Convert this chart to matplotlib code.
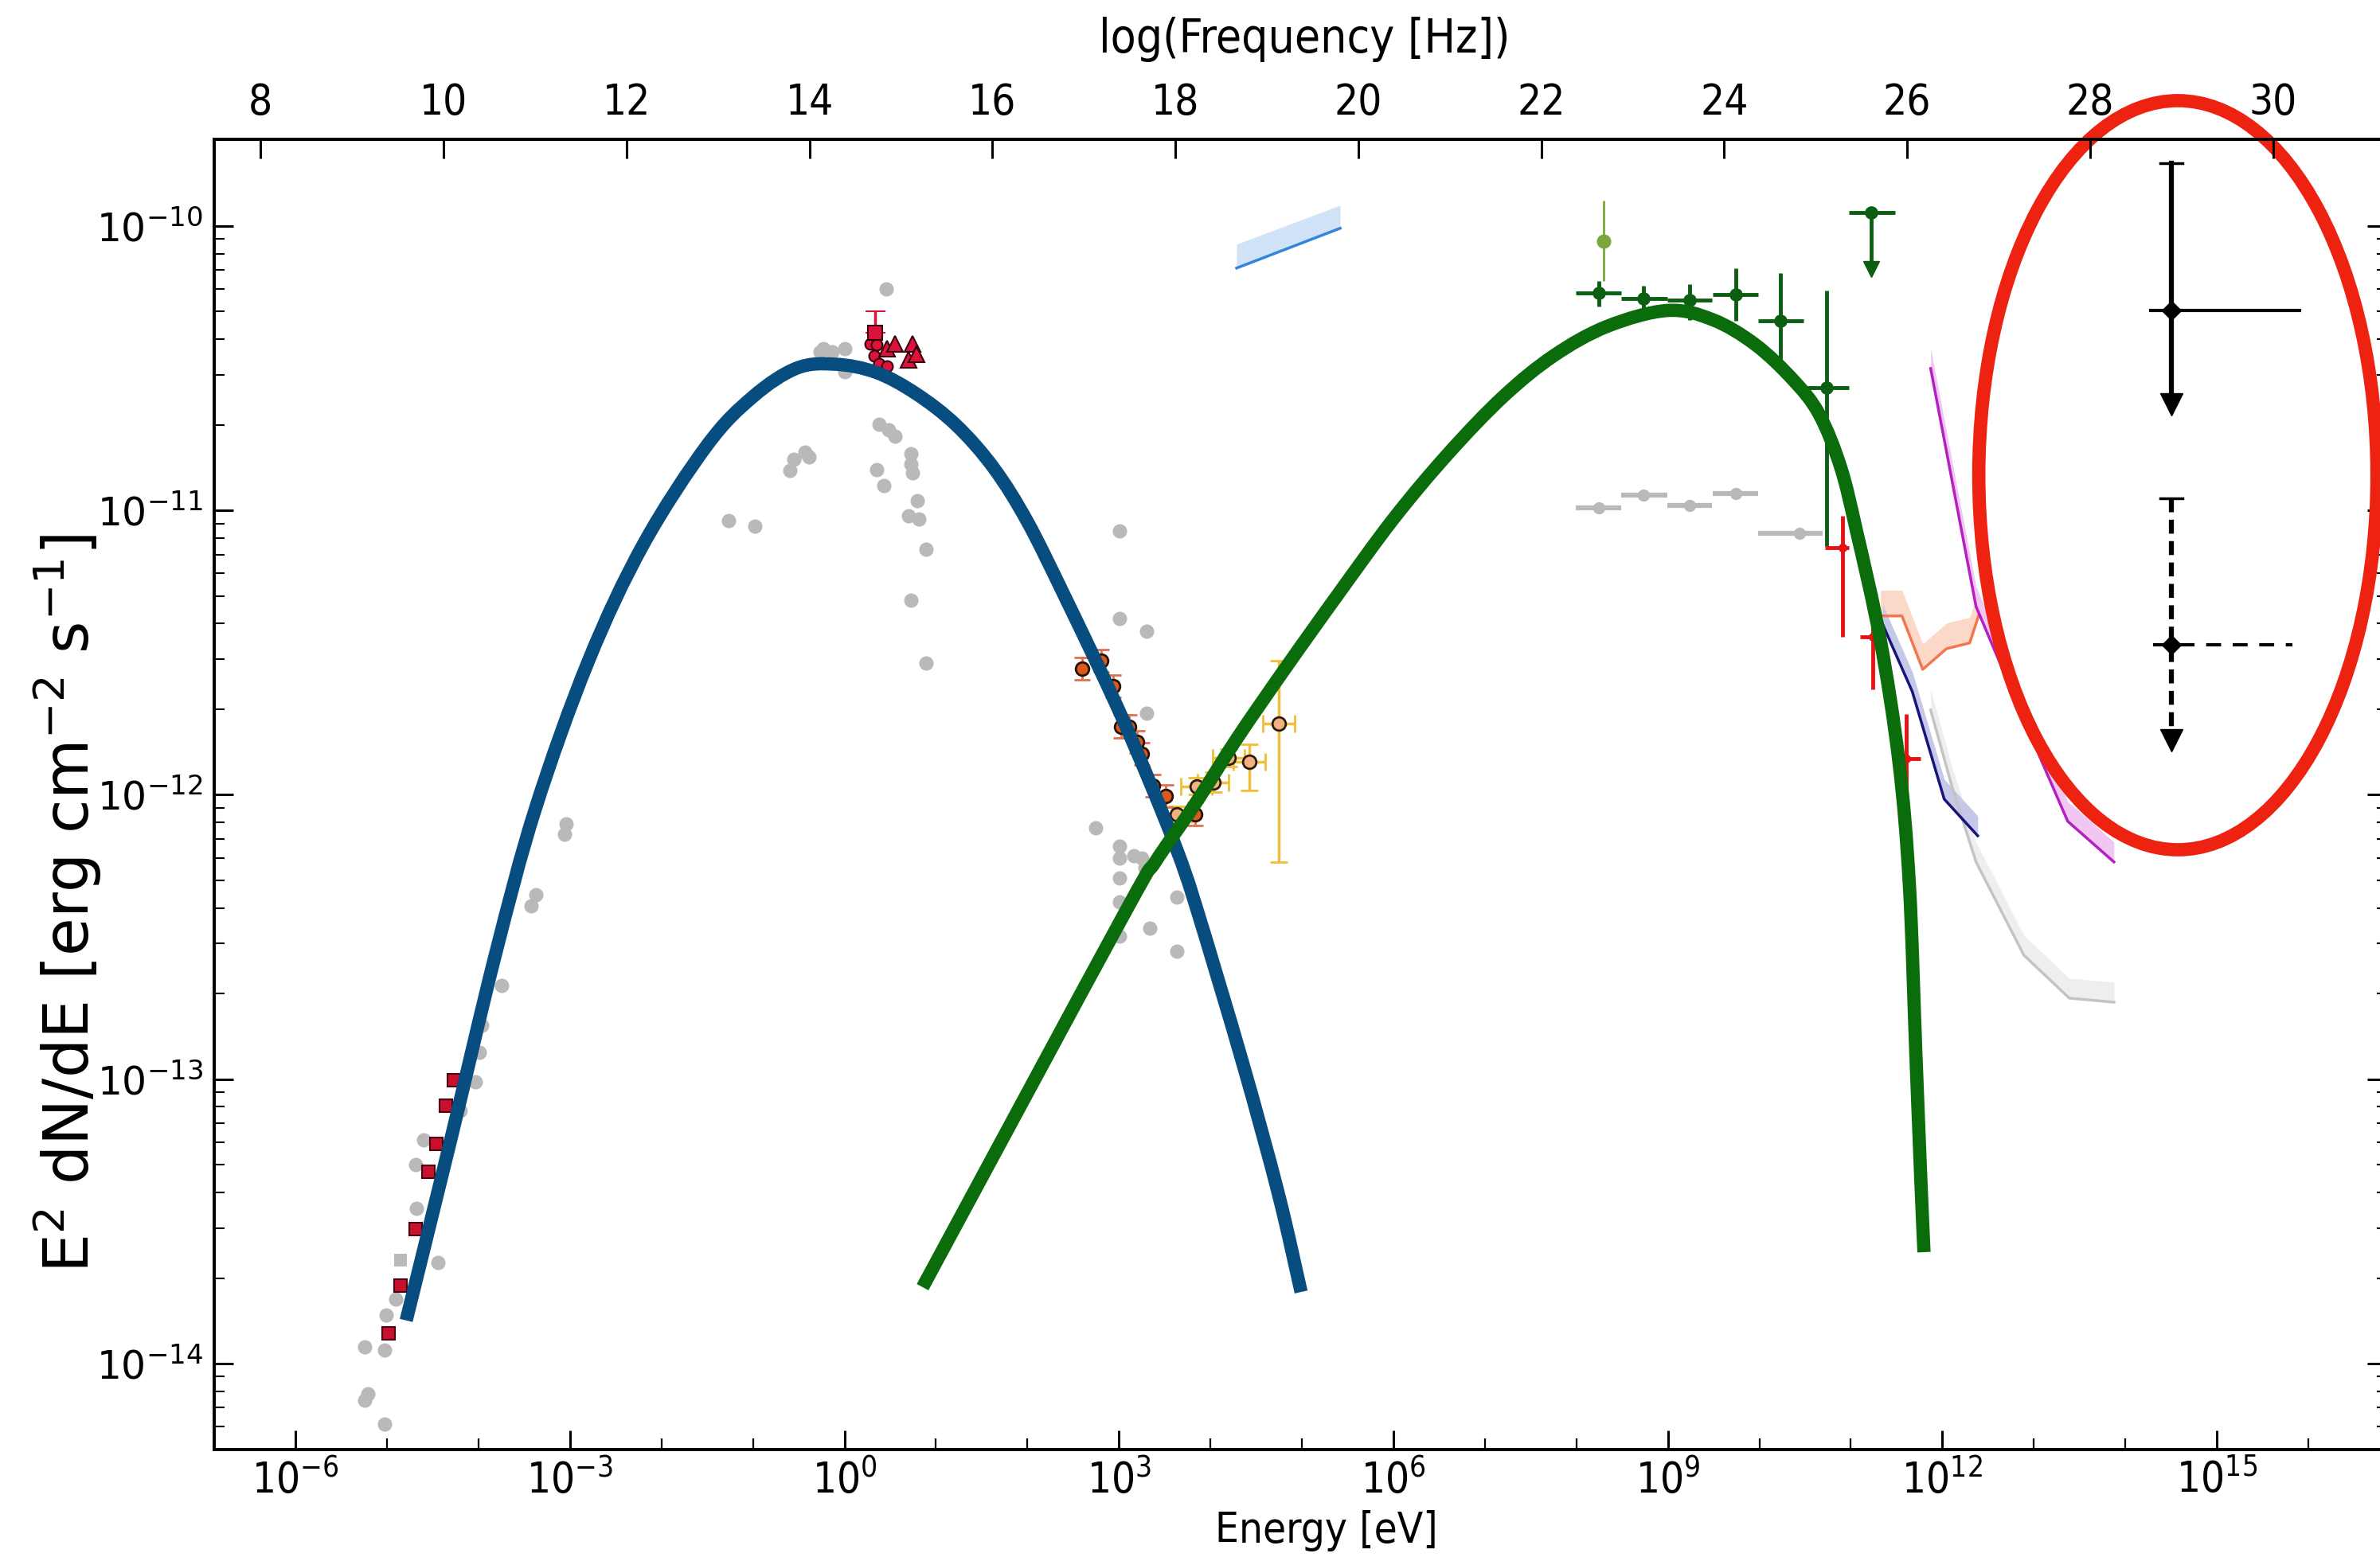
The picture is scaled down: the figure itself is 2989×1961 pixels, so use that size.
import numpy as np
import matplotlib
matplotlib.use('Agg')
import matplotlib.pyplot as plt
from matplotlib import font_manager
from matplotlib.patches import Ellipse, PathPatch
from matplotlib.path import Path

# ---------------- data (log10 values) ----------------
# archival multi-wavelength points (gray)
gray_logE = [-5.244, -5.244, -5.209, -5.026, -5.026, -5.009, -4.904, -4.443, -4.678, -4.686,
             -4.599, -4.199, -4.033, -3.990, -3.963, -3.746, -3.423, -3.371, -3.057, -3.040,
             -1.263, -0.981, -0.600, -0.550, -0.434, -0.384, -0.235, 0.000, 0.000, -0.267,
             -0.135, 0.453, 0.375, 0.479, 0.549, 0.723, 0.723, 0.348, 0.430, 0.746,
             0.795, 0.696, 0.812, 0.895, 0.729, 0.895,
             3.005, 3.005, 3.301, 3.301, 2.744, 3.005, 3.005, 3.162, 3.249, 3.284,
             3.005, 3.005, 3.632, 3.005, 3.336, 3.632]
gray_logF = [-14.128, -13.941, -14.106, -14.212, -13.952, -13.829, -13.773, -13.644, -13.454, -13.300,
             -13.213, -13.109, -13.009, -12.905, -12.810, -12.670, -12.390, -12.351, -12.138, -12.102,
             -11.035, -11.056, -10.859, -10.821, -10.795, -10.811, -10.431, -10.431, -10.512, -10.443,
             -10.443, -10.221, -10.697, -10.716, -10.739, -10.800, -10.837, -10.856, -10.912, -10.869,
             -10.965, -11.019, -11.029, -11.136, -11.317, -11.536,
             -11.072, -11.380, -11.425, -11.713, -12.116, -12.180, -12.222, -12.214, -12.222, -12.256,
             -12.292, -12.376, -12.359, -12.496, -12.468, -12.550]
gray_sq_logE = [-4.852]
gray_sq_logF = [-13.636]

# radio squares (red)
radio_logE = [-4.268, -4.355, -4.460, -4.547, -4.686, -4.852, -4.983]
radio_logF = [-13.003, -13.093, -13.227, -13.325, -13.526, -13.725, -13.893]

# optical points (red)
opt_sq_logE = [0.331]
opt_sq_logF = [-10.375]
opt_sq_top = [-10.299]
opt_ci_logE = [0.279, 0.348, 0.322, 0.375, 0.462]
opt_ci_logF = [-10.414, -10.417, -10.456, -10.484, -10.493]
opt_tri_logE = [0.462, 0.549, 0.740, 0.697, 0.784]
opt_tri_logF = [-10.431, -10.414, -10.414, -10.470, -10.451]

# X-ray points
xd_logE = [2.596, 2.805, 2.936, 3.023, 3.110, 3.197, 3.249, 3.371, 3.510, 3.833]
xd_logF = [-11.556, -11.528, -11.618, -11.760, -11.760, -11.814, -11.856, -11.968, -12.004, -12.068]
xl_logE = [3.632, 3.850, 4.033, 4.199, 4.425, 4.747]
xl_logF = [-12.068, -11.970, -11.956, -11.870, -11.884, -11.749]
xl_lo = [-12.10, -12.00, -11.99, -11.90, -11.984, -12.236]
xl_hi = [-12.04, -11.94, -11.92, -11.84, -11.822, -11.528]

# hard X-ray bow-tie
bow_logE = [4.286, 5.418]
bow_lo = [-10.148, -10.008]
bow_hi = [-10.064, -9.927]

# Fermi-LAT (green)
lat_logE = [8.249, 8.737, 9.242, 9.739, 10.235, 10.732]
lat_logF = [-10.235, -10.255, -10.260, -10.241, -10.333, -10.568]
lat_elo = [7.997, 8.493, 8.998, 9.495, 9.991, 10.479]
lat_ehi = [8.493, 8.998, 9.486, 9.991, 10.479, 10.976]
lat_flo = [-10.283, -10.300, -10.330, -10.333, -10.493, -11.125]
lat_fhi = [-10.193, -10.210, -10.204, -10.148, -10.165, -10.227]
lat_ul_logE = [11.220]
lat_ul_logF = [-9.952]
lat_ul_elo = [10.976]
lat_ul_ehi = [11.481]
lat_ul_tip = [-10.151]
lat2_logE = [8.301]
lat2_logF = [-10.053]
lat2_flo = [-10.193]
lat2_fhi = [-9.910]

# older gamma-ray points (gray)
gg_logE = [8.249, 8.737, 9.242, 9.739, 10.44]
gg_logF = [-10.991, -10.946, -10.982, -10.940, -11.08]
gg_elo = [7.997, 8.493, 8.998, 9.495, 9.99]
gg_ehi = [8.493, 8.998, 9.486, 9.991, 10.69]

# VHE points (red)
vhe_logE = [10.906, 11.237, 11.603]
vhe_logF = [-11.131, -11.444, -11.872]
vhe_elo = [10.714, 11.10, 11.472]
vhe_ehi = [10.976, 11.37, 11.760]
vhe_flo = [-11.444, -11.629, -12.057]
vhe_fhi = [-11.019, -11.37, -11.716]

# sensitivity curves
sens_or_logE = [11.324, 11.559, 11.786, 12.047, 12.300, 12.396]
sens_or_logF = [-11.371, -11.371, -11.559, -11.486, -11.466, -11.371]
sens_nv_logE = [11.350, 11.672, 12.021, 12.387]
sens_nv_logF = [-11.402, -11.637, -12.015, -12.144]
sens_gr_logE = [11.873, 12.108, 12.369, 12.892, 13.389, 13.876]
sens_gr_logF = [-11.702, -11.973, -12.236, -12.564, -12.715, -12.729]
sens_mg_logE = [11.873, 12.369, 13.092, 13.371, 13.876]
sens_mg_logF = [-10.501, -11.338, -11.886, -12.093, -12.236]

# model curves
blue_logE = [-4.791, -4.30, -3.818, -3.38, -2.80, -2.20, -1.50, -1.00, -0.523, -0.10,
             0.348, 0.784, 1.220, 1.629, 2.00, 2.410, 2.962, 3.339, 3.630, 3.84,
             4.35, 4.743, 4.991]
blue_logF = [-13.848, -13.207, -12.564, -12.05, -11.53, -11.12, -10.77, -10.60, -10.50, -10.486,
             -10.515, -10.590, -10.700, -10.850, -11.04, -11.304, -11.677, -11.957, -12.191, -12.39,
             -12.94, -13.403, -13.748]
green_logE = [0.854, 3.049, 3.397, 3.833, 4.294, 4.817, 5.375, 6.0, 6.6, 7.2, 7.753, 8.336,
              8.998, 9.495, 9.956, 10.366, 10.653, 10.889, 11.063, 11.324, 11.527, 11.64,
              11.71, 11.765, 11.80]
green_logF = [-13.731, -12.424, -12.236, -12.032, -11.800, -11.556, -11.304, -11.03, -10.80,
              -10.60, -10.456, -10.353, -10.297, -10.330, -10.417, -10.540, -10.661, -10.848,
              -11.073, -11.458, -11.886, -12.315, -12.90, -13.35, -13.608]

# legend symbols inside the ellipse
lim_logE = [14.505, 14.505]
lim_logF = [-10.297, -11.472]
lim_elo = [14.279, 14.303]
lim_ehi = [15.909, 15.830]
lim_top = [-9.779, -10.957]
lim_tip = [-10.663, -11.842]

freq_ticks = list(range(8, 31, 2))
energy_ticks = list(range(-6, 16, 3))


def P(v):
    return 10 ** np.asarray(v, dtype=float)


def smooth_path(le, lf):
    """Catmull-Rom style bezier path through the read points (log space)."""
    pts = np.column_stack([le, lf])
    n = len(pts)
    verts = [pts[0]]
    codes = [Path.MOVETO]
    for i in range(n - 1):
        p0 = pts[max(i - 1, 0)]
        p1 = pts[i]
        p2 = pts[i + 1]
        p3 = pts[min(i + 2, n - 1)]
        verts += [p1 + (p2 - p0) / 6.0, p2 - (p3 - p1) / 6.0, p2]
        codes += [Path.CURVE4] * 3
    return Path(10 ** np.array(verts), codes)


# ---------------- fonts ----------------
narrow = None
pref = ['DejaVuSansCondensed.ttf', 'LiberationSansNarrow-Regular.ttf',
        'RobotoCondensed-Regular.ttf', 'OpenSans_Condensed-Regular.ttf']
files = [f.fname for f in font_manager.fontManager.ttflist]
for p in pref:
    for fn in files:
        if fn.endswith(p):
            narrow = fn
            break
    if narrow:
        break
if narrow:
    fx = font_manager.FontProperties(fname=narrow, size=38)
    fxl = font_manager.FontProperties(fname=narrow, size=38)
    fxt = font_manager.FontProperties(fname=narrow, size=42)
else:
    fx = font_manager.FontProperties(family='DejaVu Sans', size=34)
    fxl = font_manager.FontProperties(family='DejaVu Sans', size=32)
    fxt = font_manager.FontProperties(family='DejaVu Sans', size=38)

# ---------------- figure ----------------
fig = plt.figure(figsize=(29.89, 19.61), dpi=100)
ax = fig.add_axes([0.0900, 0.0714, 0.9127, 0.8394])
ax.set_xscale('log')
ax.set_yscale('log')
ax.set_xlim(10 ** -6.89, 10 ** 16.855)
ax.set_ylim(10 ** -14.302, 10 ** -9.695)

# gray archival
ax.plot(P(gray_logE), P(gray_logF), 'o', color='#b9b9b9', ms=13, mew=0, zorder=2)
ax.plot(P(gray_sq_logE), P(gray_sq_logF), 's', color='#b9b9b9', ms=12, mew=0, zorder=2)

# radio red squares
ax.plot(P(radio_logE), P(radio_logF), 's', mfc='#c8102e', mec='#4a0010', ms=12, mew=1.5, zorder=3)

# optical
ax.errorbar(P(opt_sq_logE), P(opt_sq_logF),
            yerr=[[0], [P(opt_sq_top)[0] - P(opt_sq_logF)[0]]],
            fmt='s', mfc='#dc143c', mec='#3a0010', ms=13, mew=1.5, ecolor='#dc143c',
            elinewidth=2.5, capsize=9, capthick=2.5, zorder=4)
ax.plot(P(opt_ci_logE), P(opt_ci_logF), 'o', mfc='#dc143c', mec='#3a0010', ms=10, mew=1.5, zorder=4)
ax.plot(P(opt_tri_logE), P(opt_tri_logF), '^', mfc='#dc143c', mec='#3a0010', ms=14, mew=1.5, zorder=4)

# X-ray
xl_F = P(xl_logF)
ax.errorbar(P(xl_logE), xl_F, yerr=[xl_F - P(xl_lo), P(xl_hi) - xl_F],
            xerr=[P(xl_logE) - P(np.array(xl_logE) - 0.17), P(np.array(xl_logE) + 0.17) - P(xl_logE)],
            fmt='o', mfc='#f2b27f', mec='#2a1a10', ms=12, mew=2, ecolor='#efbf3a',
            elinewidth=2.5, capsize=8, capthick=2.5, zorder=3)
xd_F = P(xd_logF)
ax.errorbar(P(xd_logE), xd_F, yerr=[xd_F * (1 - 10 ** -0.04), xd_F * (10 ** 0.04 - 1)],
            fmt='o', mfc='#d95a1c', mec='#2a1005', ms=12, mew=2, ecolor='#e07050',
            elinewidth=2, capsize=7, capthick=2, zorder=3)

# bow-tie
ax.fill_between(P(bow_logE), P(bow_lo), P(bow_hi), color='#cfe2f6', lw=0, zorder=2)
ax.plot(P(bow_logE), P(bow_lo), color='#2f86dc', lw=2.5, zorder=3)

# older gamma-ray (gray)
gg_F = P(gg_logF)
ax.errorbar(P(gg_logE), gg_F, xerr=[P(gg_logE) - P(gg_elo), P(gg_ehi) - P(gg_logE)],
            fmt='o', color='#b9b9b9', ms=10, elinewidth=4.5, zorder=2)

# Fermi-LAT
lat_F = P(lat_logF)
ax.errorbar(P(lat_logE), lat_F,
            xerr=[P(lat_logE) - P(lat_elo), P(lat_ehi) - P(lat_logE)],
            yerr=[lat_F - P(lat_flo), P(lat_fhi) - lat_F],
            fmt='o', color='#0b5e12', ms=11, elinewidth=3.5, zorder=4)
ax.errorbar(P(lat2_logE), P(lat2_logF),
            yerr=[P(lat2_logF) - P(lat2_flo), P(lat2_fhi) - P(lat2_logF)],
            fmt='o', color='#79a83d', ms=12, elinewidth=2, zorder=3)
ax.errorbar(P(lat_ul_logE), P(lat_ul_logF),
            xerr=[P(lat_ul_logE) - P(lat_ul_elo), P(lat_ul_ehi) - P(lat_ul_logE)],
            fmt='o', color='#0b5e12', ms=11, elinewidth=3.5, zorder=4)
ax.plot(P(lat_ul_logE * 2), P(lat_ul_logF + lat_ul_tip), color='#0b5e12', lw=3.5, zorder=4)
ax.plot(P(lat_ul_logE), P(lat_ul_tip), 'v', color='#0b5e12', ms=15, zorder=4)

# VHE
vhe_F = P(vhe_logF)
ax.errorbar(P(vhe_logE), vhe_F,
            xerr=[P(vhe_logE) - P(vhe_elo), P(vhe_ehi) - P(vhe_logE)],
            yerr=[vhe_F - P(vhe_flo), P(vhe_fhi) - vhe_F],
            fmt='o', color='#e81212', ms=7, elinewidth=3.5, zorder=4)


# sensitivity curves
def band(le, lf, line_c, fill_c, dh, lw=2.5):
    e = P(le)
    f = P(lf)
    ax.fill_between(e, f, f * 10 ** dh, color=fill_c, lw=0, zorder=2)
    ax.plot(e, f, color=line_c, lw=lw, zorder=3)


band(sens_or_logE, sens_or_logF, '#f07850', '#fbd8c8', 0.09)
band(sens_gr_logE, sens_gr_logF, '#c4c4c4', '#eeeeee', 0.07, lw=2.5)
band(sens_nv_logE, sens_nv_logF, '#15157a', '#c6c8ea', 0.07)
band(sens_mg_logE, sens_mg_logF, '#b420c0', '#f2c6f2', 0.07)

# model curves
for le, lf, col in [(blue_logE, blue_logF, '#074d80'), (green_logE, green_logF, '#0a6c0a')]:
    ax.add_patch(PathPatch(smooth_path(le, lf), fill=False, ec=col, lw=12,
                           capstyle='butt', joinstyle='round', zorder=6))

# symbols inside the ellipse
for i, ls in enumerate(['-', '--']):
    e = P(lim_logE[i])
    f = P(lim_logF[i])
    if ls == '-':
        ax.plot([P(lim_elo[i]), P(lim_ehi[i])], [f, f], color='k', lw=3, zorder=7)
        ax.plot([e, e], [P(lim_top[i]), P(lim_tip[i]) * 1.1], color='k', lw=4.5, zorder=7)
    else:
        ax.plot([P(lim_elo[i]), P(lim_ehi[i])], [f, f], color='k', lw=3, dashes=(4.5, 3.5), zorder=7)
        ax.plot([e, e], [P(lim_top[i]), P(lim_tip[i]) * 1.1], color='k', lw=4.5,
                dashes=(2.8, 1.5), zorder=7)
    ax.plot([e / 10 ** 0.12, e * 10 ** 0.12], [P(lim_top[i])] * 2, color='k', lw=2.5, zorder=7)
    ax.plot(e, f, 'D', color='k', ms=12, zorder=7)
    ax.plot(e, P(lim_tip[i]) * 10 ** 0.035, 'v', color='k', ms=20, zorder=7)

ell = Ellipse((0.904, 0.7436), 0.1833, 0.5717, transform=ax.transAxes, fill=False,
              ec='#ee2211', lw=12, zorder=8, clip_on=False)
ax.add_patch(ell)

# ---------------- axes styling ----------------
for s in ax.spines.values():
    s.set_linewidth(2.8)
ax.set_xticks([10.0 ** k for k in energy_ticks])
ax.set_xticklabels(['$\\mathdefault{10^{%d}}$' % k for k in energy_ticks], fontproperties=fx)
ax.xaxis.set_minor_locator(matplotlib.ticker.FixedLocator([10.0 ** k for k in range(-6, 17)]))
ax.xaxis.set_minor_formatter(matplotlib.ticker.NullFormatter())
ax.yaxis.set_minor_formatter(matplotlib.ticker.NullFormatter())
ax.tick_params(axis='x', which='major', direction='in', length=17, width=2.2, pad=9, top=False)
ax.tick_params(axis='x', which='minor', direction='in', length=10, width=1.6, top=False)
ax.tick_params(axis='y', which='major', direction='in', length=17, width=2.2, pad=10,
               right=True, labelsize=35)
ax.tick_params(axis='y', which='minor', direction='in', length=9, width=1.5, right=True)

ax.set_xlabel('Energy [eV]', fontproperties=fxl, va='top')
ax.xaxis.set_label_coords(0.512, -0.046)
ax.set_ylabel('E$^2$ dN/dE [erg cm$^{-2}$ s$^{-1}$]', fontsize=56)
ax.yaxis.set_label_coords(-0.051, 0.417)

top = ax.twiny()
top.set_xscale('log')
top.set_xlim(ax.get_xlim())
h = 4.135667e-15
top.set_xticks([h * 10.0 ** k for k in freq_ticks])
top.set_xticklabels([str(k) for k in freq_ticks], fontproperties=fx)
top.xaxis.set_minor_locator(matplotlib.ticker.NullLocator())
top.tick_params(axis='x', which='major', direction='in', length=17, width=2.2, pad=14)
top.set_xlabel('log(Frequency [Hz])', fontproperties=fxt, va='bottom')
top.xaxis.set_label_coords(0.502, 1.059)
for s in top.spines.values():
    s.set_linewidth(2.8)

fig.savefig('out.png', dpi=100)
